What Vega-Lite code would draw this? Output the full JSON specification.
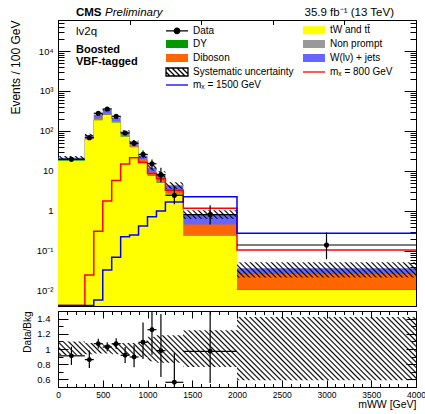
{
"$schema":"https://vega.github.io/schema/vega-lite/v6.json",
"padding":{"left":8,"top":6,"right":0,"bottom":0},
"spacing":2,
"config":{
 "font":"Liberation Sans",
 "view":{"stroke":"#000","strokeWidth":1},
 "legend":{"symbolFillColor":"transparent"},
 "axis":{"labelFont":"Liberation Sans","titleFont":"Liberation Sans","labelColor":"#000","titleColor":"#000","titleFontWeight":"normal","domainColor":"#000","domainWidth":1,"gridColor":"#000","gridOpacity":1,"gridWidth":1,"ticks":false,"zindex":1,"labelOverlap":false,"labelFlush":false,"labelFontSize":9.5}
},
"datasets":{"bins":[
{"lo":0,"hi":300,"xc":150,"tt":18.0,"dy":18.5,"np":19.0,"vv":19.8,"wj":21.5,"uLo":19.8,"uHi":23.7,"data":19.6,"dLo":17.1,"dHi":22.2,"r":0.91,"rLo":0.79,"rHi":1.03,"bLo":0.92,"bHi":1.10,"m800":0.0043,"m1500":0.0043},
{"lo":300,"hi":400,"xc":350,"tt":62,"dy":63,"np":64,"vv":67,"wj":79,"uLo":73.5,"uHi":85.3,"data":68,"dLo":59.5,"dHi":77,"r":0.86,"rLo":0.75,"rHi":0.98,"bLo":0.93,"bHi":1.08,"m800":0.025,"m1500":0.0043},
{"lo":400,"hi":500,"xc":450,"tt":185,"dy":187,"np":192,"vv":205,"wj":259,"uLo":243,"uHi":277,"data":277,"dLo":261,"dHi":294,"r":1.07,"rLo":1.005,"rHi":1.135,"bLo":0.94,"bHi":1.07,"m800":0.31,"m1500":0.0059},
{"lo":500,"hi":600,"xc":550,"tt":250,"dy":253,"np":258,"vv":275,"wj":346,"uLo":325,"uHi":367,"data":355,"dLo":335,"dHi":376,"r":1.026,"rLo":0.97,"rHi":1.088,"bLo":0.94,"bHi":1.06,"m800":1.78,"m1500":0.0335},
{"lo":600,"hi":700,"xc":650,"tt":163,"dy":165,"np":168,"vv":178,"wj":218,"uLo":203,"uHi":233,"data":233,"dLo":218,"dHi":249,"r":1.07,"rLo":1.0,"rHi":1.14,"bLo":0.93,"bHi":1.07,"m800":5.8,"m1500":0.07},
{"lo":700,"hi":800,"xc":750,"tt":72,"dy":73,"np":75,"vv":80,"wj":97,"uLo":89,"uHi":105,"data":89,"dLo":79.5,"dHi":99.5,"r":0.917,"rLo":0.816,"rHi":1.026,"bLo":0.92,"bHi":1.08,"m800":15,"m1500":0.226},
{"lo":800,"hi":900,"xc":850,"tt":39,"dy":40,"np":41,"vv":45,"wj":55,"uLo":50.6,"uHi":59.4,"data":49,"dLo":41.8,"dHi":57.8,"r":0.895,"rLo":0.76,"rHi":1.05,"bLo":0.92,"bHi":1.08,"m800":21.5,"m1500":0.25},
{"lo":900,"hi":1000,"xc":950,"tt":16.5,"dy":17,"np":17.5,"vv":19.5,"wj":24,"uLo":21.4,"uHi":26.6,"data":26,"dLo":20.9,"dHi":32.4,"r":1.088,"rLo":0.87,"rHi":1.35,"bLo":0.89,"bHi":1.11,"m800":16.2,"m1500":0.42},
{"lo":1000,"hi":1100,"xc":1050,"tt":7.6,"dy":7.8,"np":8.0,"vv":9.2,"wj":12.1,"uLo":10.2,"uHi":14.0,"data":15.2,"dLo":11.2,"dHi":19.4,"r":1.254,"rLo":0.925,"rHi":1.6,"bLo":0.84,"bHi":1.16,"m800":8.6,"m1500":0.72},
{"lo":1100,"hi":1200,"xc":1150,"tt":5.0,"dy":5.1,"np":5.3,"vv":6.2,"wj":8.3,"uLo":6.8,"uHi":9.8,"data":8.1,"dLo":5.2,"dHi":12.1,"r":0.978,"rLo":0.63,"rHi":1.46,"bLo":0.82,"bHi":1.18,"m800":6.4,"m1500":1.0},
{"lo":1200,"hi":1400,"xc":1300,"tt":2.6,"dy":2.65,"np":2.75,"vv":3.3,"wj":4.4,"uLo":3.6,"uHi":5.2,"data":2.47,"dLo":1.47,"dHi":4.16,"r":0.562,"rLo":0.33,"rHi":0.947,"bLo":0.82,"bHi":1.18,"m800":3.3,"m1500":1.68},
{"lo":1400,"hi":2000,"xc":1700,"tt":0.24,"dy":0.245,"np":0.255,"vv":0.46,"wj":0.835,"uLo":0.64,"uHi":1.04,"data":0.81,"dLo":0.46,"dHi":1.39,"r":0.97,"rLo":0.553,"rHi":1.66,"bLo":0.763,"bHi":1.246,"m800":1.17,"m1500":2.28},
{"lo":2000,"hi":4000,"xc":3000,"tt":0.0105,"dy":0.0108,"np":0.011,"vv":0.0266,"wj":0.037,"uLo":0.0218,"uHi":0.0525,"data":0.141,"dLo":0.062,"dHi":0.288,"r":3.8,"rLo":1.68,"rHi":7.8,"bLo":0.588,"bHi":1.42,"m800":0.106,"m1500":0.277}
]},
"vconcat":[
{"width":358,"height":286,"layer":[
 {"data":{"name":"bins"},
  "transform":[{"fold":["lo","hi"],"as":["edge","xe"]}],
  "mark":{"type":"area","clip":true,"color":"#6666ff"},
  "encoding":{
   "x":{"field":"xe","type":"quantitative","scale":{"domain":[0,4000],"nice":false},
        "axis":{"title":null,"labels":false,"grid":true,"labelOverlap":false,"values":[0,100,200,300,400,500,600,700,800,900,1000,1100,1200,1300,1400,1500,1600,1700,1800,1900,2000,2100,2200,2300,2400,2500,2600,2700,2800,2900,3000,3100,3200,3300,3400,3500,3600,3700,3800,3900,4000],
        "gridDash":{"condition":{"test":"datum.value % 500 === 0","value":[9,268,9,2000]},"value":[4.5,277,4.5,2000]}}},
   "y":{"field":"wj","type":"quantitative","scale":{"type":"log","domain":[0.0042,59600],"nice":false},
        "axis":{"title":"Events / 100 GeV","titleAnchor":"end","titleFontSize":12,"titlePadding":14,"labelPadding":5,"grid":true,"labelOverlap":false,
        "values":[0.005,0.006,0.007,0.008,0.009,0.01,0.02,0.03,0.04,0.05,0.06,0.07,0.08,0.09,0.1,0.2,0.3,0.4,0.5,0.6,0.7,0.8,0.9,1,2,3,4,5,6,7,8,9,10,20,30,40,50,60,70,80,90,100,200,300,400,500,600,700,800,900,1000,2000,3000,4000,5000,6000,7000,8000,9000,10000,20000,30000,40000,50000],
        "labelExpr":"abs(log(datum.value)/LN10-round(log(datum.value)/LN10))>0.001 ? '' : ({'-2':'10⁻²','-1':'10⁻¹','0':'1','1':'10','2':'10²','3':'10³','4':'10⁴'})[''+round(log(datum.value)/LN10)]",
        "gridDash":{"condition":{"test":"abs(log(datum.value)/LN10-round(log(datum.value)/LN10))<0.001","value":[12,334,12,2000]},"value":[6,346,6,2000]}}},
   "y2":{"datum":0.001}
  }},
 {"data":{"name":"bins"},"transform":[{"fold":["lo","hi"],"as":["edge","xe"]}],"mark":{"type":"area","clip":true,"color":"#ff6600"},
  "encoding":{"x":{"field":"xe","type":"quantitative"},"y":{"field":"vv","type":"quantitative"},"y2":{"datum":0.001}}},
 {"data":{"name":"bins"},"transform":[{"fold":["lo","hi"],"as":["edge","xe"]}],"mark":{"type":"area","clip":true,"color":"#999999"},
  "encoding":{"x":{"field":"xe","type":"quantitative"},"y":{"field":"np","type":"quantitative"},"y2":{"datum":0.001}}},
 {"data":{"name":"bins"},"transform":[{"fold":["lo","hi"],"as":["edge","xe"]}],"mark":{"type":"area","clip":true,"color":"#009900"},
  "encoding":{"x":{"field":"xe","type":"quantitative"},"y":{"field":"dy","type":"quantitative"},"y2":{"datum":0.001}}},
 {"data":{"name":"bins"},"transform":[{"fold":["lo","hi"],"as":["edge","xe"]}],"mark":{"type":"area","clip":true,"color":"#ffff00"},
  "encoding":{"x":{"field":"xe","type":"quantitative"},"y":{"field":"tt","type":"quantitative"},"y2":{"datum":0.001}}},
 {"data":{"name":"bins"},
  "transform":[{"fold":["wj","vv","np","dy","tt"],"as":["proc","val"]}],
  "mark":{"type":"point","filled":true,"opacity":0,"clip":true},
  "encoding":{
   "x":{"field":"lo","type":"quantitative"},
   "y":{"field":"val","type":"quantitative"},
   "fill":{"field":"proc","type":"nominal",
     "scale":{"domain":["data","tt","dy","np","vv","wj","unc","s800","s1500"],"range":["#000000","#ffff00","#009900","#999999","#ff6600","#6666ff","transparent","transparent","transparent"]},
     "legend":{"title":null,"orient":"none","direction":"horizontal","legendX":113,"legendY":4,"columns":2,"columnPadding":6,"rowPadding":0,"padding":0,"symbolSize":100,"symbolOpacity":1,"symbolStrokeWidth":1.3,"symbolFillColor":"transparent","labelFontSize":10,"labelFont":"Liberation Sans","labelColor":"#000","labelOffset":10,"labelLimit":300,"gridAlign":"each",
       "labelExpr":"({'data':'Data','tt':'tW and tt̄','dy':'DY','np':'Non prompt','vv':'Diboson','wj':'W(lν) + jets','unc':'Systematic uncertainty','s800':'mₓ = 800 GeV','s1500':'mₓ = 1500 GeV'})[datum.value]"}},
   "stroke":{"field":"proc","type":"nominal",
     "scale":{"domain":["data","tt","dy","np","vv","wj","unc","s800","s1500"],"range":["#000000","transparent","transparent","transparent","transparent","transparent","#000000","#ff0000","#0000ff"]}},
   "shape":{"field":"proc","type":"nominal",
     "scale":{"domain":["data","tt","dy","np","vv","wj","unc","s800","s1500"],"range":["M-2.2,0H2.2M-0.55,0A0.55,0.55,0,1,0,0.55,0A0.55,0.55,0,1,0,-0.55,0","M-2.2,-0.8H2.2V0.8H-2.2Z","M-2.2,-0.8H2.2V0.8H-2.2Z","M-2.2,-0.8H2.2V0.8H-2.2Z","M-2.2,-0.8H2.2V0.8H-2.2Z","M-2.2,-0.8H2.2V0.8H-2.2Z","M-2.2,-0.8H2.2V0.8H-2.2ZM-2.2,0L-1.4,0.8M-2,-0.8L-0.4,0.8M-1,-0.8L0.6,0.8M0,-0.8L1.6,0.8M1,-0.8L2.2,0.4M2,-0.8L2.2,-0.6","M-2.2,0H2.2","M-2.2,0H2.2"]}}
  }},
 {"data":{"name":"bins"},
  "transform":[{"fold":["lo","hi"],"as":["edge","xe"]}],
  "mark":{"type":"area","clip":true,"color":{"gradient":"linear","x1":0,"y1":1,"x2":1.2051,"y2":0.4311,"stops":[{"offset":0,"color":"#0000"},{"offset":0.003,"color":"#000"},{"offset":0.006,"color":"#0000"},{"offset":0.01,"color":"#0000"},{"offset":0.013,"color":"#000"},{"offset":0.016,"color":"#0000"},{"offset":0.02,"color":"#0000"},{"offset":0.023,"color":"#000"},{"offset":0.026,"color":"#0000"},{"offset":0.03,"color":"#0000"},{"offset":0.033,"color":"#000"},{"offset":0.036,"color":"#0000"},{"offset":0.04,"color":"#0000"},{"offset":0.043,"color":"#000"},{"offset":0.046,"color":"#0000"},{"offset":0.05,"color":"#0000"},{"offset":0.053,"color":"#000"},{"offset":0.056,"color":"#0000"},{"offset":0.06,"color":"#0000"},{"offset":0.063,"color":"#000"},{"offset":0.066,"color":"#0000"},{"offset":0.07,"color":"#0000"},{"offset":0.073,"color":"#000"},{"offset":0.076,"color":"#0000"},{"offset":0.08,"color":"#0000"},{"offset":0.083,"color":"#000"},{"offset":0.086,"color":"#0000"},{"offset":0.09,"color":"#0000"},{"offset":0.093,"color":"#000"},{"offset":0.096,"color":"#0000"},{"offset":0.1,"color":"#0000"},{"offset":0.103,"color":"#000"},{"offset":0.106,"color":"#0000"},{"offset":0.11,"color":"#0000"},{"offset":0.113,"color":"#000"},{"offset":0.116,"color":"#0000"},{"offset":0.12,"color":"#0000"},{"offset":0.123,"color":"#000"},{"offset":0.126,"color":"#0000"},{"offset":0.13,"color":"#0000"},{"offset":0.133,"color":"#000"},{"offset":0.136,"color":"#0000"},{"offset":0.14,"color":"#0000"},{"offset":0.143,"color":"#000"},{"offset":0.146,"color":"#0000"},{"offset":0.15,"color":"#0000"},{"offset":0.153,"color":"#000"},{"offset":0.156,"color":"#0000"},{"offset":0.16,"color":"#0000"},{"offset":0.163,"color":"#000"},{"offset":0.166,"color":"#0000"},{"offset":0.17,"color":"#0000"},{"offset":0.173,"color":"#000"},{"offset":0.176,"color":"#0000"},{"offset":0.18,"color":"#0000"},{"offset":0.183,"color":"#000"},{"offset":0.186,"color":"#0000"},{"offset":0.19,"color":"#0000"},{"offset":0.193,"color":"#000"},{"offset":0.196,"color":"#0000"},{"offset":0.2,"color":"#0000"},{"offset":0.203,"color":"#000"},{"offset":0.206,"color":"#0000"},{"offset":0.21,"color":"#0000"},{"offset":0.213,"color":"#000"},{"offset":0.216,"color":"#0000"},{"offset":0.22,"color":"#0000"},{"offset":0.223,"color":"#000"},{"offset":0.226,"color":"#0000"},{"offset":0.23,"color":"#0000"},{"offset":0.233,"color":"#000"},{"offset":0.236,"color":"#0000"},{"offset":0.24,"color":"#0000"},{"offset":0.243,"color":"#000"},{"offset":0.246,"color":"#0000"},{"offset":0.25,"color":"#0000"},{"offset":0.253,"color":"#000"},{"offset":0.256,"color":"#0000"},{"offset":0.26,"color":"#0000"},{"offset":0.263,"color":"#000"},{"offset":0.266,"color":"#0000"},{"offset":0.27,"color":"#0000"},{"offset":0.273,"color":"#000"},{"offset":0.276,"color":"#0000"},{"offset":0.28,"color":"#0000"},{"offset":0.283,"color":"#000"},{"offset":0.286,"color":"#0000"},{"offset":0.29,"color":"#0000"},{"offset":0.293,"color":"#000"},{"offset":0.296,"color":"#0000"},{"offset":0.3,"color":"#0000"},{"offset":0.303,"color":"#000"},{"offset":0.306,"color":"#0000"},{"offset":0.31,"color":"#0000"},{"offset":0.313,"color":"#000"},{"offset":0.316,"color":"#0000"},{"offset":0.32,"color":"#0000"},{"offset":0.323,"color":"#000"},{"offset":0.326,"color":"#0000"},{"offset":0.33,"color":"#0000"},{"offset":0.333,"color":"#000"},{"offset":0.336,"color":"#0000"},{"offset":0.34,"color":"#0000"},{"offset":0.343,"color":"#000"},{"offset":0.346,"color":"#0000"},{"offset":0.35,"color":"#0000"},{"offset":0.353,"color":"#000"},{"offset":0.356,"color":"#0000"},{"offset":0.36,"color":"#0000"},{"offset":0.363,"color":"#000"},{"offset":0.366,"color":"#0000"},{"offset":0.37,"color":"#0000"},{"offset":0.373,"color":"#000"},{"offset":0.376,"color":"#0000"},{"offset":0.38,"color":"#0000"},{"offset":0.383,"color":"#000"},{"offset":0.386,"color":"#0000"},{"offset":0.39,"color":"#0000"},{"offset":0.393,"color":"#000"},{"offset":0.396,"color":"#0000"},{"offset":0.4,"color":"#0000"},{"offset":0.403,"color":"#000"},{"offset":0.406,"color":"#0000"},{"offset":0.41,"color":"#0000"},{"offset":0.413,"color":"#000"},{"offset":0.416,"color":"#0000"},{"offset":0.42,"color":"#0000"},{"offset":0.423,"color":"#000"},{"offset":0.426,"color":"#0000"},{"offset":0.43,"color":"#0000"},{"offset":0.433,"color":"#000"},{"offset":0.436,"color":"#0000"},{"offset":0.44,"color":"#0000"},{"offset":0.443,"color":"#000"},{"offset":0.446,"color":"#0000"},{"offset":0.45,"color":"#0000"},{"offset":0.453,"color":"#000"},{"offset":0.456,"color":"#0000"},{"offset":0.46,"color":"#0000"},{"offset":0.463,"color":"#000"},{"offset":0.466,"color":"#0000"},{"offset":0.47,"color":"#0000"},{"offset":0.473,"color":"#000"},{"offset":0.476,"color":"#0000"},{"offset":0.48,"color":"#0000"},{"offset":0.483,"color":"#000"},{"offset":0.486,"color":"#0000"},{"offset":0.49,"color":"#0000"},{"offset":0.493,"color":"#000"},{"offset":0.496,"color":"#0000"},{"offset":0.5,"color":"#0000"},{"offset":0.503,"color":"#000"},{"offset":0.506,"color":"#0000"},{"offset":0.51,"color":"#0000"},{"offset":0.513,"color":"#000"},{"offset":0.516,"color":"#0000"},{"offset":0.52,"color":"#0000"},{"offset":0.523,"color":"#000"},{"offset":0.526,"color":"#0000"},{"offset":0.53,"color":"#0000"},{"offset":0.533,"color":"#000"},{"offset":0.536,"color":"#0000"},{"offset":0.54,"color":"#0000"},{"offset":0.543,"color":"#000"},{"offset":0.546,"color":"#0000"},{"offset":0.55,"color":"#0000"},{"offset":0.553,"color":"#000"},{"offset":0.556,"color":"#0000"},{"offset":0.56,"color":"#0000"},{"offset":0.563,"color":"#000"},{"offset":0.566,"color":"#0000"},{"offset":0.57,"color":"#0000"},{"offset":0.573,"color":"#000"},{"offset":0.576,"color":"#0000"},{"offset":0.58,"color":"#0000"},{"offset":0.583,"color":"#000"},{"offset":0.586,"color":"#0000"},{"offset":0.59,"color":"#0000"},{"offset":0.593,"color":"#000"},{"offset":0.596,"color":"#0000"},{"offset":0.6,"color":"#0000"},{"offset":0.603,"color":"#000"},{"offset":0.606,"color":"#0000"},{"offset":0.61,"color":"#0000"},{"offset":0.613,"color":"#000"},{"offset":0.616,"color":"#0000"},{"offset":0.62,"color":"#0000"},{"offset":0.623,"color":"#000"},{"offset":0.626,"color":"#0000"},{"offset":0.63,"color":"#0000"},{"offset":0.633,"color":"#000"},{"offset":0.636,"color":"#0000"},{"offset":0.64,"color":"#0000"},{"offset":0.643,"color":"#000"},{"offset":0.646,"color":"#0000"},{"offset":0.65,"color":"#0000"},{"offset":0.653,"color":"#000"},{"offset":0.656,"color":"#0000"},{"offset":0.66,"color":"#0000"},{"offset":0.663,"color":"#000"},{"offset":0.666,"color":"#0000"},{"offset":0.67,"color":"#0000"},{"offset":0.673,"color":"#000"},{"offset":0.676,"color":"#0000"},{"offset":0.68,"color":"#0000"},{"offset":0.683,"color":"#000"},{"offset":0.686,"color":"#0000"},{"offset":0.69,"color":"#0000"},{"offset":0.693,"color":"#000"},{"offset":0.696,"color":"#0000"},{"offset":0.7,"color":"#0000"},{"offset":0.703,"color":"#000"},{"offset":0.706,"color":"#0000"},{"offset":0.71,"color":"#0000"},{"offset":0.713,"color":"#000"},{"offset":0.716,"color":"#0000"},{"offset":0.72,"color":"#0000"},{"offset":0.723,"color":"#000"},{"offset":0.726,"color":"#0000"},{"offset":0.73,"color":"#0000"},{"offset":0.733,"color":"#000"},{"offset":0.736,"color":"#0000"},{"offset":0.74,"color":"#0000"},{"offset":0.743,"color":"#000"},{"offset":0.746,"color":"#0000"},{"offset":0.75,"color":"#0000"},{"offset":0.753,"color":"#000"},{"offset":0.756,"color":"#0000"},{"offset":0.76,"color":"#0000"},{"offset":0.763,"color":"#000"},{"offset":0.766,"color":"#0000"},{"offset":0.77,"color":"#0000"},{"offset":0.773,"color":"#000"},{"offset":0.776,"color":"#0000"},{"offset":0.78,"color":"#0000"},{"offset":0.783,"color":"#000"},{"offset":0.786,"color":"#0000"},{"offset":0.79,"color":"#0000"},{"offset":0.793,"color":"#000"},{"offset":0.796,"color":"#0000"},{"offset":0.8,"color":"#0000"},{"offset":0.803,"color":"#000"},{"offset":0.806,"color":"#0000"},{"offset":0.81,"color":"#0000"},{"offset":0.813,"color":"#000"},{"offset":0.816,"color":"#0000"},{"offset":0.82,"color":"#0000"},{"offset":0.823,"color":"#000"},{"offset":0.826,"color":"#0000"},{"offset":0.83,"color":"#0000"},{"offset":0.833,"color":"#000"},{"offset":0.836,"color":"#0000"},{"offset":0.84,"color":"#0000"},{"offset":0.843,"color":"#000"},{"offset":0.846,"color":"#0000"},{"offset":0.85,"color":"#0000"},{"offset":0.853,"color":"#000"},{"offset":0.856,"color":"#0000"},{"offset":0.86,"color":"#0000"},{"offset":0.863,"color":"#000"},{"offset":0.866,"color":"#0000"},{"offset":0.87,"color":"#0000"},{"offset":0.873,"color":"#000"},{"offset":0.876,"color":"#0000"},{"offset":0.88,"color":"#0000"},{"offset":0.883,"color":"#000"},{"offset":0.886,"color":"#0000"},{"offset":0.89,"color":"#0000"},{"offset":0.893,"color":"#000"},{"offset":0.896,"color":"#0000"},{"offset":0.9,"color":"#0000"},{"offset":0.903,"color":"#000"},{"offset":0.906,"color":"#0000"},{"offset":0.91,"color":"#0000"},{"offset":0.913,"color":"#000"},{"offset":0.916,"color":"#0000"},{"offset":0.92,"color":"#0000"},{"offset":0.923,"color":"#000"},{"offset":0.926,"color":"#0000"},{"offset":0.93,"color":"#0000"},{"offset":0.933,"color":"#000"},{"offset":0.936,"color":"#0000"},{"offset":0.94,"color":"#0000"},{"offset":0.943,"color":"#000"},{"offset":0.946,"color":"#0000"},{"offset":0.95,"color":"#0000"},{"offset":0.953,"color":"#000"},{"offset":0.956,"color":"#0000"},{"offset":0.96,"color":"#0000"},{"offset":0.963,"color":"#000"},{"offset":0.966,"color":"#0000"},{"offset":0.97,"color":"#0000"},{"offset":0.973,"color":"#000"},{"offset":0.976,"color":"#0000"},{"offset":0.98,"color":"#0000"},{"offset":0.983,"color":"#000"},{"offset":0.986,"color":"#0000"},{"offset":0.99,"color":"#0000"},{"offset":0.993,"color":"#000"},{"offset":0.996,"color":"#0000"}]}},
  "encoding":{"x":{"field":"xe","type":"quantitative"},"y":{"field":"uHi","type":"quantitative"},"y2":{"field":"uLo"}}},
 {"data":{"name":"bins"},
  "transform":[{"fold":["lo","hi"],"as":["edge","xe"]}],
  "mark":{"type":"line","clip":true,"color":"#ff0000","strokeWidth":1.5},
  "encoding":{"x":{"field":"xe","type":"quantitative"},"y":{"field":"m800","type":"quantitative"}}},
 {"data":{"name":"bins"},
  "transform":[{"fold":["lo","hi"],"as":["edge","xe"]}],
  "mark":{"type":"line","clip":true,"color":"#0000ff","strokeWidth":1.5},
  "encoding":{"x":{"field":"xe","type":"quantitative"},"y":{"field":"m1500","type":"quantitative"}}},
 {"data":{"name":"bins"},
  "mark":{"type":"rule","clip":true,"color":"#000","strokeWidth":1.2},
  "encoding":{"x":{"field":"xc","type":"quantitative"},"y":{"field":"dLo","type":"quantitative"},"y2":{"field":"dHi"}}},
 {"data":{"name":"bins"},
  "mark":{"type":"rule","clip":true,"color":"#000","strokeWidth":1.2},
  "encoding":{"x":{"field":"lo","type":"quantitative"},"x2":{"field":"hi"},"y":{"field":"data","type":"quantitative"}}},
 {"data":{"name":"bins"},
  "mark":{"type":"circle","clip":true,"color":"#000","opacity":1,"size":26},
  "encoding":{"x":{"field":"xc","type":"quantitative"},"y":{"field":"data","type":"quantitative"}}},
 {"data":{"values":[{}]},"mark":{"type":"text","text":"CMS","align":"left","baseline":"alphabetic","fontSize":11.5,"fontWeight":"bold","color":"#000"},"encoding":{"x":{"datum":201},"y":{"datum":75000}}},
 {"data":{"values":[{}]},"mark":{"type":"text","text":"Preliminary","align":"left","baseline":"alphabetic","fontSize":11.5,"fontStyle":"italic","color":"#000"},"encoding":{"x":{"datum":525},"y":{"datum":75000}}},
 {"data":{"values":[{}]},"mark":{"type":"text","text":"35.9 fb⁻¹ (13 TeV)","align":"right","baseline":"alphabetic","fontSize":11.5,"color":"#000"},"encoding":{"x":{"datum":3754},"y":{"datum":75000}}},
 {"data":{"values":[{}]},"mark":{"type":"text","text":"lv2q","align":"left","baseline":"alphabetic","fontSize":11.5,"color":"#000"},"encoding":{"x":{"datum":201},"y":{"datum":25100}}},
 {"data":{"values":[{}]},"mark":{"type":"text","text":"Boosted","align":"left","baseline":"alphabetic","fontSize":11,"fontWeight":"bold","color":"#000"},"encoding":{"x":{"datum":201},"y":{"datum":9170}}},
 {"data":{"values":[{}]},"mark":{"type":"text","text":"VBF-tagged","align":"left","baseline":"alphabetic","fontSize":11,"fontWeight":"bold","color":"#000"},"encoding":{"x":{"datum":201},"y":{"datum":4340}}}
]},
{"width":358,"height":76,
 "resolve":{"axis":{"x":"independent","y":"independent"}},
 "layer":[
 {"layer":[
 {"data":{"name":"bins"},
  "transform":[{"fold":["lo","hi"],"as":["edge","xe"]}],
  "mark":{"type":"area","clip":true,"color":{"gradient":"linear","x1":0,"y1":1,"x2":1.4291,"y2":0.7485,"stops":[{"offset":0,"color":"#0000"},{"offset":0.003,"color":"#000"},{"offset":0.006,"color":"#0000"},{"offset":0.01,"color":"#0000"},{"offset":0.013,"color":"#000"},{"offset":0.016,"color":"#0000"},{"offset":0.02,"color":"#0000"},{"offset":0.023,"color":"#000"},{"offset":0.026,"color":"#0000"},{"offset":0.03,"color":"#0000"},{"offset":0.033,"color":"#000"},{"offset":0.036,"color":"#0000"},{"offset":0.04,"color":"#0000"},{"offset":0.043,"color":"#000"},{"offset":0.046,"color":"#0000"},{"offset":0.05,"color":"#0000"},{"offset":0.053,"color":"#000"},{"offset":0.056,"color":"#0000"},{"offset":0.06,"color":"#0000"},{"offset":0.063,"color":"#000"},{"offset":0.066,"color":"#0000"},{"offset":0.07,"color":"#0000"},{"offset":0.073,"color":"#000"},{"offset":0.076,"color":"#0000"},{"offset":0.08,"color":"#0000"},{"offset":0.083,"color":"#000"},{"offset":0.086,"color":"#0000"},{"offset":0.09,"color":"#0000"},{"offset":0.093,"color":"#000"},{"offset":0.096,"color":"#0000"},{"offset":0.1,"color":"#0000"},{"offset":0.103,"color":"#000"},{"offset":0.106,"color":"#0000"},{"offset":0.11,"color":"#0000"},{"offset":0.113,"color":"#000"},{"offset":0.116,"color":"#0000"},{"offset":0.12,"color":"#0000"},{"offset":0.123,"color":"#000"},{"offset":0.126,"color":"#0000"},{"offset":0.13,"color":"#0000"},{"offset":0.133,"color":"#000"},{"offset":0.136,"color":"#0000"},{"offset":0.14,"color":"#0000"},{"offset":0.143,"color":"#000"},{"offset":0.146,"color":"#0000"},{"offset":0.15,"color":"#0000"},{"offset":0.153,"color":"#000"},{"offset":0.156,"color":"#0000"},{"offset":0.16,"color":"#0000"},{"offset":0.163,"color":"#000"},{"offset":0.166,"color":"#0000"},{"offset":0.17,"color":"#0000"},{"offset":0.173,"color":"#000"},{"offset":0.176,"color":"#0000"},{"offset":0.18,"color":"#0000"},{"offset":0.183,"color":"#000"},{"offset":0.186,"color":"#0000"},{"offset":0.19,"color":"#0000"},{"offset":0.193,"color":"#000"},{"offset":0.196,"color":"#0000"},{"offset":0.2,"color":"#0000"},{"offset":0.203,"color":"#000"},{"offset":0.206,"color":"#0000"},{"offset":0.21,"color":"#0000"},{"offset":0.213,"color":"#000"},{"offset":0.216,"color":"#0000"},{"offset":0.22,"color":"#0000"},{"offset":0.223,"color":"#000"},{"offset":0.226,"color":"#0000"},{"offset":0.23,"color":"#0000"},{"offset":0.233,"color":"#000"},{"offset":0.236,"color":"#0000"},{"offset":0.24,"color":"#0000"},{"offset":0.243,"color":"#000"},{"offset":0.246,"color":"#0000"},{"offset":0.25,"color":"#0000"},{"offset":0.253,"color":"#000"},{"offset":0.256,"color":"#0000"},{"offset":0.26,"color":"#0000"},{"offset":0.263,"color":"#000"},{"offset":0.266,"color":"#0000"},{"offset":0.27,"color":"#0000"},{"offset":0.273,"color":"#000"},{"offset":0.276,"color":"#0000"},{"offset":0.28,"color":"#0000"},{"offset":0.283,"color":"#000"},{"offset":0.286,"color":"#0000"},{"offset":0.29,"color":"#0000"},{"offset":0.293,"color":"#000"},{"offset":0.296,"color":"#0000"},{"offset":0.3,"color":"#0000"},{"offset":0.303,"color":"#000"},{"offset":0.306,"color":"#0000"},{"offset":0.31,"color":"#0000"},{"offset":0.313,"color":"#000"},{"offset":0.316,"color":"#0000"},{"offset":0.32,"color":"#0000"},{"offset":0.323,"color":"#000"},{"offset":0.326,"color":"#0000"},{"offset":0.33,"color":"#0000"},{"offset":0.333,"color":"#000"},{"offset":0.336,"color":"#0000"},{"offset":0.34,"color":"#0000"},{"offset":0.343,"color":"#000"},{"offset":0.346,"color":"#0000"},{"offset":0.35,"color":"#0000"},{"offset":0.353,"color":"#000"},{"offset":0.356,"color":"#0000"},{"offset":0.36,"color":"#0000"},{"offset":0.363,"color":"#000"},{"offset":0.366,"color":"#0000"},{"offset":0.37,"color":"#0000"},{"offset":0.373,"color":"#000"},{"offset":0.376,"color":"#0000"},{"offset":0.38,"color":"#0000"},{"offset":0.383,"color":"#000"},{"offset":0.386,"color":"#0000"},{"offset":0.39,"color":"#0000"},{"offset":0.393,"color":"#000"},{"offset":0.396,"color":"#0000"},{"offset":0.4,"color":"#0000"},{"offset":0.403,"color":"#000"},{"offset":0.406,"color":"#0000"},{"offset":0.41,"color":"#0000"},{"offset":0.413,"color":"#000"},{"offset":0.416,"color":"#0000"},{"offset":0.42,"color":"#0000"},{"offset":0.423,"color":"#000"},{"offset":0.426,"color":"#0000"},{"offset":0.43,"color":"#0000"},{"offset":0.433,"color":"#000"},{"offset":0.436,"color":"#0000"},{"offset":0.44,"color":"#0000"},{"offset":0.443,"color":"#000"},{"offset":0.446,"color":"#0000"},{"offset":0.45,"color":"#0000"},{"offset":0.453,"color":"#000"},{"offset":0.456,"color":"#0000"},{"offset":0.46,"color":"#0000"},{"offset":0.463,"color":"#000"},{"offset":0.466,"color":"#0000"},{"offset":0.47,"color":"#0000"},{"offset":0.473,"color":"#000"},{"offset":0.476,"color":"#0000"},{"offset":0.48,"color":"#0000"},{"offset":0.483,"color":"#000"},{"offset":0.486,"color":"#0000"},{"offset":0.49,"color":"#0000"},{"offset":0.493,"color":"#000"},{"offset":0.496,"color":"#0000"},{"offset":0.5,"color":"#0000"},{"offset":0.503,"color":"#000"},{"offset":0.506,"color":"#0000"},{"offset":0.51,"color":"#0000"},{"offset":0.513,"color":"#000"},{"offset":0.516,"color":"#0000"},{"offset":0.52,"color":"#0000"},{"offset":0.523,"color":"#000"},{"offset":0.526,"color":"#0000"},{"offset":0.53,"color":"#0000"},{"offset":0.533,"color":"#000"},{"offset":0.536,"color":"#0000"},{"offset":0.54,"color":"#0000"},{"offset":0.543,"color":"#000"},{"offset":0.546,"color":"#0000"},{"offset":0.55,"color":"#0000"},{"offset":0.553,"color":"#000"},{"offset":0.556,"color":"#0000"},{"offset":0.56,"color":"#0000"},{"offset":0.563,"color":"#000"},{"offset":0.566,"color":"#0000"},{"offset":0.57,"color":"#0000"},{"offset":0.573,"color":"#000"},{"offset":0.576,"color":"#0000"},{"offset":0.58,"color":"#0000"},{"offset":0.583,"color":"#000"},{"offset":0.586,"color":"#0000"},{"offset":0.59,"color":"#0000"},{"offset":0.593,"color":"#000"},{"offset":0.596,"color":"#0000"},{"offset":0.6,"color":"#0000"},{"offset":0.603,"color":"#000"},{"offset":0.606,"color":"#0000"},{"offset":0.61,"color":"#0000"},{"offset":0.613,"color":"#000"},{"offset":0.616,"color":"#0000"},{"offset":0.62,"color":"#0000"},{"offset":0.623,"color":"#000"},{"offset":0.626,"color":"#0000"},{"offset":0.63,"color":"#0000"},{"offset":0.633,"color":"#000"},{"offset":0.636,"color":"#0000"},{"offset":0.64,"color":"#0000"},{"offset":0.643,"color":"#000"},{"offset":0.646,"color":"#0000"},{"offset":0.65,"color":"#0000"},{"offset":0.653,"color":"#000"},{"offset":0.656,"color":"#0000"},{"offset":0.66,"color":"#0000"},{"offset":0.663,"color":"#000"},{"offset":0.666,"color":"#0000"},{"offset":0.67,"color":"#0000"},{"offset":0.673,"color":"#000"},{"offset":0.676,"color":"#0000"},{"offset":0.68,"color":"#0000"},{"offset":0.683,"color":"#000"},{"offset":0.686,"color":"#0000"},{"offset":0.69,"color":"#0000"},{"offset":0.693,"color":"#000"},{"offset":0.696,"color":"#0000"},{"offset":0.7,"color":"#0000"},{"offset":0.703,"color":"#000"},{"offset":0.706,"color":"#0000"},{"offset":0.71,"color":"#0000"},{"offset":0.713,"color":"#000"},{"offset":0.716,"color":"#0000"},{"offset":0.72,"color":"#0000"},{"offset":0.723,"color":"#000"},{"offset":0.726,"color":"#0000"},{"offset":0.73,"color":"#0000"},{"offset":0.733,"color":"#000"},{"offset":0.736,"color":"#0000"},{"offset":0.74,"color":"#0000"},{"offset":0.743,"color":"#000"},{"offset":0.746,"color":"#0000"},{"offset":0.75,"color":"#0000"},{"offset":0.753,"color":"#000"},{"offset":0.756,"color":"#0000"},{"offset":0.76,"color":"#0000"},{"offset":0.763,"color":"#000"},{"offset":0.766,"color":"#0000"},{"offset":0.77,"color":"#0000"},{"offset":0.773,"color":"#000"},{"offset":0.776,"color":"#0000"},{"offset":0.78,"color":"#0000"},{"offset":0.783,"color":"#000"},{"offset":0.786,"color":"#0000"},{"offset":0.79,"color":"#0000"},{"offset":0.793,"color":"#000"},{"offset":0.796,"color":"#0000"},{"offset":0.8,"color":"#0000"},{"offset":0.803,"color":"#000"},{"offset":0.806,"color":"#0000"}]}},
  "encoding":{
   "x":{"field":"xe","type":"quantitative","scale":{"domain":[0,4000],"nice":false},
        "axis":{"orient":"bottom","title":"mWW [GeV]","titleAnchor":"end","titleFontSize":10.5,"titlePadding":1,"labelPadding":3,"labelFontSize":8.5,"grid":true,"labelOverlap":false,"format":"d",
        "values":[0,500,1000,1500,2000,2500,3000,3500,4000],
        "gridDash":[7,62,7,2000]}},
   "y":{"field":"bHi","type":"quantitative","scale":{"domain":[0.5,1.5],"nice":false,"zero":false},
        "axis":{"orient":"left","title":"Data/Bkg","titleAnchor":"end","titleFontSize":10,"titlePadding":4,"labelPadding":8,"labelFontSize":9.5,"grid":true,"labelOverlap":false,"format":".1~f",
        "values":[0.6,1.4],
        "gridDash":[10,338,10,2000]}},
   "y2":{"field":"bLo"}}},
 {"data":{"name":"bins"},
  "mark":{"type":"rule","clip":true,"color":"#000","strokeWidth":1.2},
  "encoding":{"x":{"field":"xc","type":"quantitative"},"y":{"field":"rLo","type":"quantitative"},"y2":{"field":"rHi"}}},
 {"data":{"name":"bins"},
  "mark":{"type":"rule","clip":true,"color":"#000","strokeWidth":1.2},
  "encoding":{"x":{"field":"lo","type":"quantitative"},"x2":{"field":"hi"},"y":{"field":"r","type":"quantitative"}}},
 {"data":{"name":"bins"},
  "mark":{"type":"circle","clip":true,"color":"#000","opacity":1,"size":24},
  "encoding":{"x":{"field":"xc","type":"quantitative"},"y":{"field":"r","type":"quantitative"}}}
 ]},
 {"data":{"name":"bins"},
  "mark":{"type":"circle","clip":true,"opacity":0},
  "encoding":{
   "x":{"field":"xc","type":"quantitative","axis":null},
   "y":{"field":"r","type":"quantitative",
        "axis":{"orient":"left","title":null,"domain":false,"labelPadding":8,"labelFontSize":9.5,"grid":true,"labelOverlap":false,"format":".1~f",
        "values":[0.8,1.2],
        "gridDash":[10,338,10,2000]}}}},
 {"data":{"name":"bins"},
  "mark":{"type":"circle","clip":true,"opacity":0},
  "encoding":{
   "x":{"field":"xc","type":"quantitative","axis":null},
   "y":{"field":"r","type":"quantitative",
        "axis":{"orient":"left","title":null,"domain":false,"labelPadding":8,"labelFontSize":9.5,"grid":true,"labelOverlap":false,"format":".1~f",
        "values":[1],
        "gridDash":[10,338,10,2000]}}}},
 {"data":{"name":"bins"},
  "mark":{"type":"circle","clip":true,"opacity":0},
  "encoding":{
   "x":{"field":"xc","type":"quantitative",
        "axis":{"orient":"top","title":null,"labels":false,"domain":false,"grid":true,
        "values":[100,200,300,400,600,700,800,900,1100,1200,1300,1400,1600,1700,1800,1900,2100,2200,2300,2400,2600,2700,2800,2900,3100,3200,3300,3400,3600,3700,3800,3900],
        "gridDash":[3.5,69,3.5,2000]}},
   "y":{"field":"r","type":"quantitative",
        "axis":{"orient":"right","title":null,"labels":false,"domain":false,"grid":true,
        "values":[0.7,0.9,1.1,1.3],
        "gridDash":[5,348,5,2000]}}}}
]}
]
}
